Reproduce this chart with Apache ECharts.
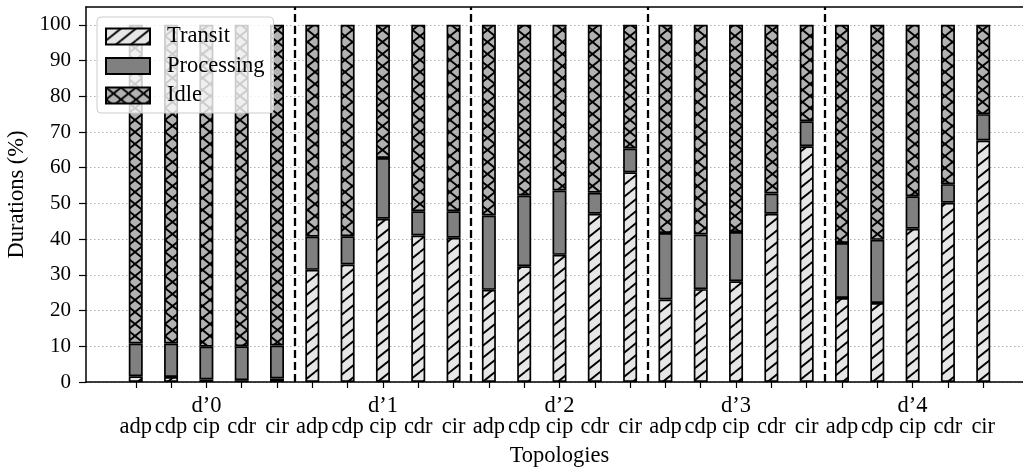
<!DOCTYPE html>
<html>
<head>
<meta charset="utf-8">
<script src="https://cdn.jsdelivr.net/npm/echarts@6/dist/echarts.min.js"></script>
<style>
html,body{margin:0;padding:0;background:#fff;}
#chart{width:1023px;height:470px;}
</style>
</head>
<body>
<div id="chart"></div>
<script>
// ---- data ----
const groups = ["d’0", "d’1", "d’2", "d’3", "d’4"];
const topologies = ["adp", "cdp", "cip", "cdr", "cir"];
const transit = [1.6, 1.4, 0.7, 0.5, 1.0,
                 31.4, 32.9, 45.7, 41.0, 40.4,
                 25.8, 32.4, 35.6, 47.1, 58.7,
                 23.1, 26.0, 28.2, 47.1, 66.0,
                 23.5, 22.1, 42.9, 50.2, 67.6];
const processing = [9.2, 9.4, 9.2, 9.5, 9.2,
                    9.3, 7.9, 17.0, 6.8, 7.4,
                    20.8, 19.8, 18.0, 5.9, 6.7,
                    18.6, 15.3, 13.8, 5.7, 7.0,
                    15.4, 17.7, 9.1, 5.2, 7.4];
const idle = [89.2, 89.2, 90.1, 90.0, 89.8,
              59.3, 59.2, 37.3, 52.2, 52.2,
              53.4, 47.8, 46.4, 47.0, 34.6,
              58.3, 58.7, 58.0, 47.2, 27.0,
              61.1, 60.2, 48.0, 44.6, 25.0];
const yTicks = [0, 10, 20, 30, 40, 50, 60, 70, 80, 90, 100];
const yMinorTicks = [5, 15, 25, 35, 45, 55, 65, 75, 85, 95];

// ---- derived ----
const nPer = topologies.length;
const nBars = groups.length * nPer;
const categories = Array.from({length: nBars}, (_, i) => {
  const g = Math.floor(i / nPer), j = i % nPer;
  return (j === Math.floor(nPer / 2) ? groups[g] : '') + '\n' + topologies[j];
});
const separators = groups.slice(1).map((_, g) => (g + 1) * nPer - 0.5);

// ---- hatch patterns ----
function makeHatch(bg, dirs) {
  const w = 15, h = 12;
  const c = document.createElement('canvas');
  c.width = w; c.height = h;
  const ctx = c.getContext('2d');
  ctx.fillStyle = bg; ctx.fillRect(0, 0, w, h);
  ctx.strokeStyle = '#000'; ctx.lineWidth = 1.9;
  const offs = [[0,0],[w,0],[-w,0],[0,h],[0,-h]];
  dirs.forEach(d => {
    offs.forEach(([ox, oy]) => {
      ctx.beginPath();
      if (d === '/') { ctx.moveTo(ox, oy + h); ctx.lineTo(ox + w, oy); }
      else { ctx.moveTo(ox, oy); ctx.lineTo(ox + w, oy + h); }
      ctx.stroke();
    });
  });
  return {image: c, repeat: 'repeat'};
}
const transitFill = makeHatch('#e6e6e6', ['/']);
const idleFill = makeHatch('#b2b2b2', ['/', '\\']);

const FONT = 'Liberation Serif';
// frame grid (value x) : plot spans 86 .. 1033 (cropped at 1023)
const PLOT_L = 86, PLOT_R = 1033, TOP = 7, BOTTOM = 88;
const pad = 1.409; // bar-slot units between plot edge and first/last bar centre
const slot = (PLOT_R - PLOT_L) / (nBars - 1 + 2 * pad);
const barsLeft = PLOT_L + (pad - 0.5) * slot;
const barsRight = 1023 - (barsLeft + nBars * slot);
const xMin = -pad, xMax = nBars - 1 + pad;

const chart = echarts.init(document.getElementById('chart'), null, {renderer: 'canvas'});
const baseItem = {borderColor: '#000', borderWidth: 1.7};
function series(name, vals, color) {
  return {
    name: name, type: 'bar', stack: 'total', barWidth: 14,
    xAxisIndex: 2, yAxisIndex: 2,
    itemStyle: Object.assign({color: color}, baseItem),
    emphasis: {disabled: true},
    data: vals
  };
}
const NUM_STYLE = {fontFamily: FONT, fontSize: 21, color: '#000'};
const TXT_STYLE = {fontFamily: FONT, fontSize: 22.5, color: '#000'};

chart.setOption({
  animation: false,
  grid: [
    {left: PLOT_L, right: 1023 - PLOT_R, top: TOP, bottom: BOTTOM, containLabel: false, outerBoundsMode: 'none'},
    {left: barsLeft, right: barsRight, top: TOP, bottom: BOTTOM, containLabel: false, outerBoundsMode: 'none'}
  ],
  legend: {
    orient: 'vertical', left: 97, top: 17,
    itemWidth: 44, itemHeight: 16, itemGap: 6.5,
    padding: [8, 9, 6, 8],
    backgroundColor: 'rgba(255,255,255,0.8)',
    borderColor: '#cccccc', borderWidth: 1, borderRadius: 4,
    icon: 'rect',
    textStyle: Object.assign({padding: [0, 0, 0, 12]}, TXT_STYLE),
    z: 20,
    data: ['Transit', 'Processing', 'Idle']
  },
  xAxis: [{
    gridIndex: 0, type: 'value', min: xMin, max: xMax, position: 'bottom',
    name: 'Topologies', nameLocation: 'middle', nameGap: 63,
    nameTextStyle: TXT_STYLE,
    axisLine: {show: true, onZero: false, lineStyle: {color: '#000', width: 1.5}},
    axisTick: {show: false}, axisLabel: {show: false}, splitLine: {show: false}
  }, {
    gridIndex: 0, type: 'value', min: xMin, max: xMax, position: 'top',
    axisLine: {show: true, onZero: false, lineStyle: {color: '#000', width: 1.5}},
    axisTick: {show: false}, axisLabel: {show: false}, splitLine: {show: false}
  }, {
    gridIndex: 1, type: 'category', data: categories, position: 'bottom',
    axisLine: {show: false},
    axisTick: {show: true, alignWithLabel: true, length: 6, lineStyle: {color: '#000', width: 1.2}},
    axisLabel: Object.assign({interval: 0, lineHeight: 21, margin: 14}, TXT_STYLE),
    splitLine: {show: false}
  }],
  yAxis: [{
    gridIndex: 0, type: 'value', min: 0, max: 105, position: 'left',
    name: 'Durations (%)', nameLocation: 'middle', nameGap: 54,
    nameTextStyle: TXT_STYLE,
    axisLine: {show: true, onZero: false, lineStyle: {color: '#000', width: 1.5}},
    axisTick: {show: true, length: 7, lineStyle: {color: '#000', width: 1.2}, customValues: yTicks},
    axisLabel: Object.assign({customValues: yTicks, margin: 15}, NUM_STYLE),
    splitLine: {show: true, lineStyle: {color: '#b0b0b0', width: 1, type: [1.5, 2.5]}}
  }, {
    gridIndex: 0, type: 'value', min: 0, max: 105, position: 'left',
    axisLine: {show: false},
    axisTick: {show: true, length: 4, lineStyle: {color: '#000', width: 1}, customValues: yMinorTicks},
    axisLabel: {show: false}, splitLine: {show: false}
  }, {
    gridIndex: 1, type: 'value', min: 0, max: 105, show: false
  }],
  series: [
    series('Transit', transit, transitFill),
    series('Processing', processing, '#808080'),
    series('Idle', idle, idleFill),
    {
      type: 'scatter', xAxisIndex: 0, yAxisIndex: 0, data: [], silent: true,
      markLine: {
        symbol: 'none', silent: true, label: {show: false},
        lineStyle: {color: '#000', width: 2.3, type: [8, 4]},
        data: separators.map(s => ({xAxis: s}))
      }
    }
  ]
});
</script>
</body>
</html>
